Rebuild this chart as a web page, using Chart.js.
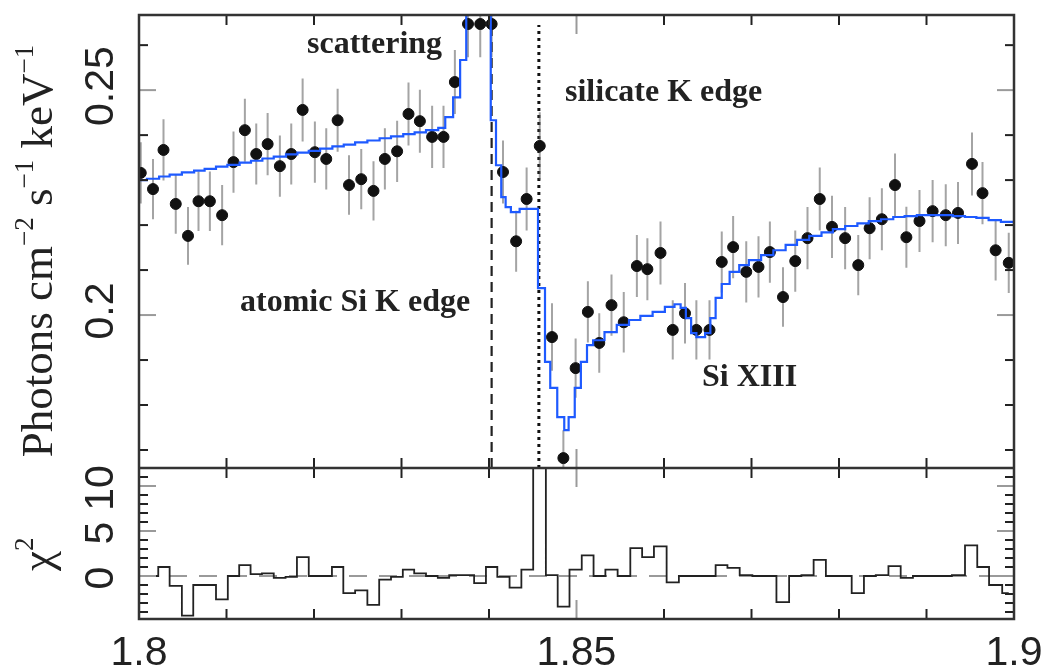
<!DOCTYPE html>
<html>
<head>
<meta charset="utf-8">
<script src="https://cdn.jsdelivr.net/npm/chart.js@4.4.1/dist/chart.umd.min.js"></script>
<style>
  html, body { margin: 0; padding: 0; background: #fff; }
</style>
</head>
<body>
<canvas id="spec" width="1048" height="670"></canvas>
<script>
// bin centres (keV) and measured flux with 1-sigma errors
var energy = [
  1.8002, 1.8016, 1.8028, 1.8042, 1.8056, 1.8068, 1.8081, 1.8095, 1.8108, 1.8121,
  1.8134, 1.8147, 1.8161, 1.8174, 1.8187, 1.8201, 1.8214, 1.8227, 1.8240, 1.8254,
  1.8268, 1.8281, 1.8295, 1.8308, 1.8321, 1.8335, 1.8348, 1.8361, 1.8376, 1.8390,
  1.8403, 1.8416, 1.8431, 1.8443, 1.8458, 1.8472, 1.8485, 1.8499, 1.8513, 1.8526,
  1.8540, 1.8554, 1.8569, 1.8581, 1.8596, 1.8610, 1.8624, 1.8637, 1.8652, 1.8666,
  1.8679, 1.8694, 1.8708, 1.8721, 1.8736, 1.8750, 1.8764, 1.8778, 1.8792, 1.8807,
  1.8822, 1.8835, 1.8849, 1.8864, 1.8877, 1.8892, 1.8907, 1.8922, 1.8936, 1.8952,
  1.8964, 1.8979, 1.8994
];
var flux = [
  0.2316, 0.2280, 0.2367, 0.2247, 0.2176, 0.2253, 0.2253, 0.2222, 0.2340, 0.2411,
  0.2358, 0.2380, 0.2331, 0.2358, 0.2456, 0.2362, 0.2347, 0.2433, 0.2289, 0.2302,
  0.2276, 0.2347, 0.2364, 0.2447, 0.2431, 0.2396, 0.2396, 0.2518, 0.2647, 0.2647,
  0.2647, 0.2318, 0.2164, 0.2258, 0.2376, 0.1951, 0.1682, 0.1882, 0.2007, 0.1938,
  0.2022, 0.1984, 0.2109, 0.2102, 0.2138, 0.1967, 0.2004, 0.1967, 0.1967, 0.2118,
  0.2151, 0.2096, 0.2107, 0.2140, 0.2040, 0.2120, 0.2171, 0.2258, 0.2196, 0.2171,
  0.2111, 0.2193, 0.2213, 0.2289, 0.2173, 0.2209, 0.2231, 0.2222, 0.2227, 0.2336,
  0.2271, 0.2144, 0.2116
];
var fluxErr = [
  0.0068, 0.0067, 0.0068, 0.0066, 0.0064, 0.0066, 0.0066, 0.0067, 0.0068, 0.0070,
  0.0068, 0.0069, 0.0068, 0.0068, 0.0070, 0.0068, 0.0068, 0.0070, 0.0066, 0.0067,
  0.0066, 0.0068, 0.0068, 0.0070, 0.0070, 0.0069, 0.0069, 0.0071, 0.0074, 0.0074,
  0.0074, 0.0070, 0.0068, 0.0070, 0.0075, 0.0075, 0.0062, 0.0066, 0.0068, 0.0066,
  0.0068, 0.0067, 0.0069, 0.0069, 0.0070, 0.0066, 0.0067, 0.0066, 0.0066, 0.0068,
  0.0069, 0.0068, 0.0068, 0.0068, 0.0066, 0.0068, 0.0069, 0.0070, 0.0069, 0.0069,
  0.0067, 0.0069, 0.0069, 0.0070, 0.0068, 0.0069, 0.0069, 0.0069, 0.0069, 0.0070,
  0.0069, 0.0067, 0.0067
];
// chi residual per bin
var chi = [
  0, 0, 1.0, -1.1, -4.4, -1.0, -1.0, -2.6, 0, 1.2,
  0.2, 0.3, -0.2, -0.1, 2.1, 0, 0, 1.0, -1.9, -1.6,
  -3.2, -0.4, -0.1, 0.7, 0.3, 0, -0.2, 0.1, 0.1, -0.8,
  1.0, -0.1, -1.3, 0.7, 20, 0.1, -3.4, 0.7, 2.3, 0,
  0.7, 0, 3.1, 2.1, 3.3, -0.7, 0, 0, 0, 1.2,
  0.9, 0.1, 0, 0, -2.9, 0, 0.1, 1.8, 0, 0,
  -1.9, 0, 0.1, 1.1, -0.2, 0, 0, 0, 0.1, 3.4,
  1.0, -1.0, -1.9
];
// model steps: value holds from each energy to the next
var modelEnergy = [
  1.8000, 1.8009, 1.8023, 1.8035, 1.8049, 1.8063, 1.8075, 1.8088, 1.8101, 1.8115,
  1.8128, 1.8141, 1.8154, 1.8168, 1.8181, 1.8194, 1.8207, 1.8221, 1.8234, 1.8247,
  1.8261, 1.8275, 1.8288, 1.8302, 1.8315, 1.8328, 1.8342, 1.8350, 1.8359, 1.8367,
  1.8374, 1.8402, 1.8408, 1.8414, 1.8419, 1.8425, 1.8435, 1.8456, 1.8464, 1.8470,
  1.8478, 1.8486, 1.8491, 1.8498, 1.8505, 1.8512, 1.8519, 1.8532, 1.8546, 1.8560,
  1.8573, 1.8587, 1.8601, 1.8612, 1.8619, 1.8625, 1.8631, 1.8637, 1.8647, 1.8653,
  1.8659, 1.8666, 1.8675, 1.8686, 1.8697, 1.8711, 1.8725, 1.8739, 1.8752, 1.8766,
  1.8780, 1.8793, 1.8807, 1.8821, 1.8834, 1.8848, 1.8862, 1.8875, 1.8889, 1.8903,
  1.8916, 1.8930, 1.8944, 1.8957, 1.8971, 1.8985, 1.9000
];
var modelFlux = [
  0.2300, 0.2303, 0.2308, 0.2312, 0.2317, 0.2321, 0.2325, 0.2330, 0.2334, 0.2339,
  0.2343, 0.2348, 0.2352, 0.2357, 0.2361, 0.2365, 0.2370, 0.2375, 0.2379, 0.2384,
  0.2388, 0.2393, 0.2397, 0.2402, 0.2406, 0.2411, 0.2416, 0.2440, 0.2484, 0.2567,
  0.2789, 0.2433, 0.2333, 0.2262, 0.2240, 0.2229, 0.2236, 0.2060, 0.1896, 0.1838,
  0.1773, 0.1744, 0.1773, 0.1838, 0.1896, 0.1933, 0.1944, 0.1962, 0.1978, 0.1989,
  0.1998, 0.2007, 0.2018, 0.2024, 0.2016, 0.1993, 0.1960, 0.1951, 0.1960, 0.1993,
  0.2038, 0.2069, 0.2096, 0.2111, 0.2122, 0.2133, 0.2144, 0.2156, 0.2167, 0.2176,
  0.2184, 0.2191, 0.2198, 0.2204, 0.2209, 0.2213, 0.2218, 0.2220, 0.2222, 0.2222,
  0.2222, 0.2220, 0.2218, 0.2216, 0.2211, 0.2207, 0.2200
];
// absorption edges (keV)
var atomicEdge = 1.8403;
var silicateEdge = 1.8457;

// axis ranges and ticks
var xRange = [1.8, 1.9];
var fluxRange = [0.166, 0.2667];
var chiRange = [-4.78, 12];
var xMajor = [1.8, 1.85, 1.9];
var xMinor = [1.81, 1.82, 1.83, 1.84, 1.86, 1.87, 1.88, 1.89];
var fluxMajor = [0.2, 0.25];
var fluxMinor = [0.17, 0.18, 0.19, 0.21, 0.22, 0.23, 0.24, 0.26];
var chiMajor = [0, 5, 10];
var chiMinor = [-4, -3, -2, -1, 1, 2, 3, 4, 6, 7, 8, 9, 11];

var points = energy.map(function (e, i) { return {x: e, y: flux[i]}; });
var errBars = [];
energy.forEach(function (e, i) {
    errBars.push({x: e, y: flux[i] - fluxErr[i]});
    errBars.push({x: e, y: flux[i] + fluxErr[i]});
    errBars.push({x: e, y: null});
});
var model = modelEnergy.map(function (e, i) { return {x: e, y: modelFlux[i]}; });
var resid = energy.map(function (e, i) { return {x: e, y: chi[i]}; });

var INK = '#222';

/*
 Frame, inward ticks, labels and notes
 */
var panelPlugin = {
    id: 'panels',
    beforeDatasetDraw: function (chart, args) {
        var xs = chart.scales.x, ys = chart.scales[args.meta.yAxisID];
        var ctx = chart.ctx;
        ctx.save();
        ctx.beginPath();
        ctx.rect(xs.left - 8, ys.top, xs.width + 16, ys.bottom - ys.top);
        ctx.clip();
    },
    afterDatasetDraw: function (chart) {
        chart.ctx.restore();
    },
    afterDraw: function (chart) {
        var ctx = chart.ctx;
        var xs = chart.scales.x, fy = chart.scales.y, cy = chart.scales.chi;
        var L = xs.left, R = xs.right;

        function tick(x1, y1, x2, y2, color) {
            ctx.strokeStyle = color;
            ctx.lineWidth = 2;
            ctx.beginPath();
            ctx.moveTo(x1, y1);
            ctx.lineTo(x2, y2);
            ctx.stroke();
        }
        function xTicks(vals, len, color) {
            vals.forEach(function (v) {
                var px = xs.getPixelForValue(v);
                tick(px, fy.top, px, fy.top + len, color);
                tick(px, fy.bottom, px, fy.bottom - len, color);
                tick(px, cy.top, px, cy.top + len, color);
                tick(px, cy.bottom, px, cy.bottom - len, color);
            });
        }
        function yTicks(scale, vals, len, color) {
            vals.forEach(function (v) {
                var py = scale.getPixelForValue(v);
                tick(L, py, L + len, py, color);
                tick(R, py, R - len, py, color);
            });
        }
        xTicks(xMinor, 10, INK);
        xTicks([1.85], 19, '#9a9a9a');
        yTicks(fy, fluxMinor, 9, INK);
        yTicks(fy, fluxMajor, 17, '#9a9a9a');
        yTicks(cy, chiMinor, 9, INK);
        yTicks(cy, chiMajor, 17, '#9a9a9a');

        // frame
        ctx.strokeStyle = '#333';
        ctx.lineWidth = 2.5;
        ctx.strokeRect(L, fy.top, R - L, cy.bottom - fy.top);
        ctx.beginPath();
        ctx.moveTo(L, fy.bottom);
        ctx.lineTo(R, fy.bottom);
        ctx.stroke();

        // tick labels
        ctx.fillStyle = INK;
        ctx.font = '41px "Liberation Sans", Arial, sans-serif';
        ctx.textAlign = 'center';
        ctx.textBaseline = 'alphabetic';
        xMajor.forEach(function (v) {
            ctx.fillText(String(v), xs.getPixelForValue(v), 665);
        });
        function yLabels(scale, vals, shift) {
            vals.forEach(function (v) {
                ctx.save();
                ctx.translate(113, scale.getPixelForValue(v) + shift);
                ctx.rotate(-Math.PI / 2);
                ctx.fillText(String(v), 0, 0);
                ctx.restore();
            });
        }
        yLabels(fy, fluxMajor, -4);
        yLabels(cy, chiMajor, 2);

        // axis title, rotated, with superscripts
        function rotatedRuns(runs, baseX, centerY, startY) {
            ctx.save();
            ctx.translate(baseX, 0);
            ctx.rotate(-Math.PI / 2);
            ctx.textAlign = 'left';
            var total = 0;
            runs.forEach(function (r) {
                ctx.font = (r[1] ? '27px' : '45px') + ' "Liberation Serif", "Times New Roman", serif';
                total += ctx.measureText(r[0]).width;
            });
            var pos = startY !== null ? startY : centerY + total / 2;
            runs.forEach(function (r) {
                ctx.font = (r[1] ? '27px' : '45px') + ' "Liberation Serif", "Times New Roman", serif';
                ctx.fillText(r[0], -pos, r[1] ? -19 : 0);
                pos -= ctx.measureText(r[0]).width;
            });
            ctx.restore();
        }
        rotatedRuns([['Photons cm', false], ['\u22122', true], [' s', false],
                     ['\u22121', true], [' keV', false], ['\u22121', true]], 52, 251, null);
        rotatedRuns([['\u03c7', false], ['2', true]], 52, 0, 571);

        // annotations
        ctx.font = 'bold 32px "Liberation Serif", "Times New Roman", serif';
        ctx.textAlign = 'left';
        ctx.fillStyle = INK;
        ctx.fillText('scattering', 307, 53);
        ctx.fillText('silicate K edge', 565, 101);
        ctx.fillText('atomic Si K edge', 240, 311);
        ctx.fillText('Si XIII', 702, 386);
    }
};

var ctx = document.getElementById('spec').getContext('2d');
var chart = new Chart(ctx, {
    type: 'line',
    data: {
        datasets: [{
            label: 'model',
            data: model,
            yAxisID: 'y',
            stepped: true,
            borderColor: 'rgb(30,90,255)',
            borderWidth: 2.2,
            pointRadius: 0,
            fill: false,
            order: 0
        }, {
            label: 'data',
            data: points,
            yAxisID: 'y',
            showLine: false,
            pointRadius: 5.5,
            pointBackgroundColor: '#111',
            pointBorderColor: '#111',
            order: 1
        }, {
            label: 'errors',
            data: errBars,
            yAxisID: 'y',
            borderColor: 'rgba(90,90,90,0.55)',
            borderWidth: 2,
            pointRadius: 0,
            spanGaps: false,
            order: 2
        }, {
            label: 'atomic edge',
            data: [{x: atomicEdge, y: fluxRange[0]}, {x: atomicEdge, y: 0.2636}],
            yAxisID: 'y',
            borderColor: INK,
            borderWidth: 2.2,
            borderDash: [10, 6],
            pointRadius: 0,
            order: 3
        }, {
            label: 'silicate edge',
            data: [{x: silicateEdge, y: fluxRange[0]}, {x: silicateEdge, y: 0.2645}],
            yAxisID: 'y',
            borderColor: '#111',
            borderWidth: 3,
            borderDash: [3, 4],
            pointRadius: 0,
            order: 3
        }, {
            label: 'chi',
            data: resid,
            yAxisID: 'chi',
            stepped: 'middle',
            borderColor: INK,
            borderWidth: 1.8,
            pointRadius: 0,
            order: 0
        }, {
            label: 'zero',
            data: [{x: xRange[0], y: 0}, {x: xRange[1], y: 0}],
            yAxisID: 'chi',
            borderColor: '#9a9a9a',
            borderWidth: 2,
            borderDash: [18, 12],
            pointRadius: 0,
            order: 5
        }]
    },
    options: {
        responsive: false,
        devicePixelRatio: 1,
        animation: false,
        layout: {padding: {left: 139, right: 34, top: 15, bottom: 51}},
        plugins: {legend: {display: false}, tooltip: {enabled: false}},
        scales: {
            x: {
                type: 'linear', min: xRange[0], max: xRange[1], offset: false,
                grid: {display: false, drawTicks: false}, border: {display: false},
                ticks: {display: false}
            },
            chi: {
                type: 'linear', position: 'left', stack: 'panels', stackWeight: 1,
                min: chiRange[0], max: chiRange[1],
                grid: {display: false, drawTicks: false}, border: {display: false},
                ticks: {display: false}
            },
            y: {
                type: 'linear', position: 'left', stack: 'panels', stackWeight: 3,
                min: fluxRange[0], max: fluxRange[1],
                grid: {display: false, drawTicks: false}, border: {display: false},
                ticks: {display: false}
            }
        }
    },
    plugins: [panelPlugin]
});
</script>
</body>
</html>
